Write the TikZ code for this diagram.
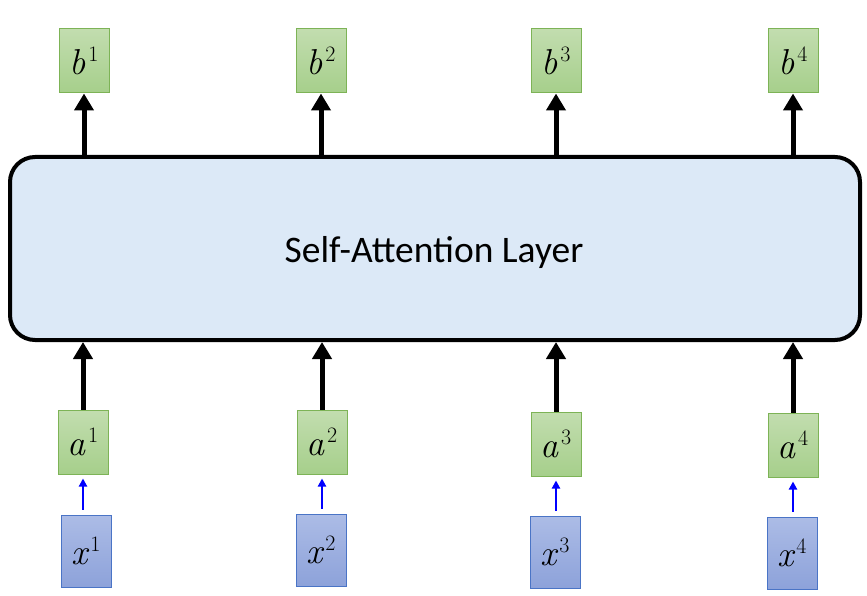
\documentclass[tikz,border=0pt]{standalone}
\usepackage{fontspec}
\newfontfamily\calibri{Carlito}
\usetikzlibrary{arrows.meta}
\definecolor{gborder}{HTML}{7DB356}
\definecolor{gtop}{HTML}{C2DDAF}
\definecolor{gbot}{HTML}{A6CF8B}
\definecolor{bborder}{HTML}{4A74C6}
\definecolor{btop}{HTML}{ACBCE6}
\definecolor{bbot}{HTML}{8DA2DA}
\definecolor{layerfill}{HTML}{DCE9F7}
\newcommand{\lbl}[2]{{\itshape #1}\kern2.5pt\raisebox{13pt}{\fontsize{22}{22}\selectfont #2}}
\tikzset{
  gbox/.style={draw=gborder, line width=1pt, top color=gtop, bottom color=gbot,
    minimum width=50pt, minimum height=64pt, inner sep=0pt,
    font=\fontsize{36}{40}\selectfont},
  bbox/.style={draw=bborder, line width=1pt, top color=btop, bottom color=bbot,
    minimum width=50pt, minimum height=72pt, inner sep=0pt,
    font=\fontsize{36}{40}\selectfont},
  bigarrow/.style={line width=5pt, -{Triangle[width=19pt,length=17pt]}},
  smallarrow/.style={blue, line width=2pt, -{Triangle[width=8pt,length=8pt]}},
}
\begin{document}
\begin{tikzpicture}[x=1pt,y=-1pt]
\useasboundingbox (0,0) rectangle (867,596);
\node[draw=black, line width=4pt, rounded corners=25pt, fill=layerfill,
  minimum width=850pt, minimum height=183pt, inner sep=0pt] (layer) at (435,248.5) {};
\node[font=\calibri\fontsize{37.5}{42}\selectfont, inner sep=0pt, anchor=base]
  (title) at (434,262) {Self-Attention Layer};

\node[gbox] (b1) at (84,61) {\lbl{b}{1}};
\node[gbox] (b2) at (321,61) {\lbl{b}{2}};
\node[gbox] (b3) at (556,61) {\lbl{b}{3}};
\node[gbox] (b4) at (793,61) {\lbl{b}{4}};

\node[gbox] (a1) at (83,442) {\lbl{a}{1}};
\node[gbox] (a2) at (322,442) {\lbl{a}{2}};
\node[gbox] (a3) at (556,444) {\lbl{a}{3}};
\node[gbox] (a4) at (793,445) {\lbl{a}{4}};

\node[bbox] (x1) at (86,551) {\lbl{x}{1}};
\node[bbox] (x2) at (321,550) {\lbl{x}{2}};
\node[bbox] (x3) at (555,552) {\lbl{x}{3}};
\node[bbox] (x4) at (792,553) {\lbl{x}{4}};

\foreach \i in {1,2,3,4}{
  \draw[bigarrow] (b\i.south |- layer.north) -- (b\i.south);
  \draw[bigarrow] (a\i.north) -- (a\i.north |- layer.south);
  \draw[smallarrow] ([yshift=5pt]x\i.north -| a\i.south) -- ([yshift=-4pt]a\i.south);
}
\end{tikzpicture}
\end{document}
